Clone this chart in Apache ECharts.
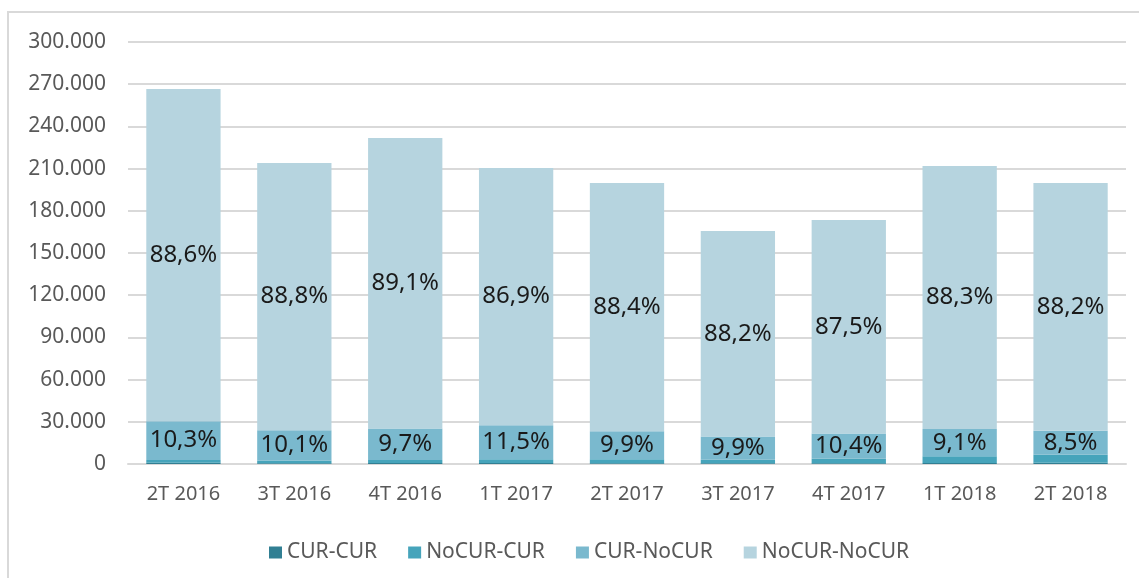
<!DOCTYPE html>
<html>
<head>
<meta charset="utf-8">
<script src="https://cdn.jsdelivr.net/npm/echarts@6/dist/echarts.min.js"></script>
<style>
  html, body { margin: 0; padding: 0; background: #fff; }
  #main { width: 1139px; height: 578px; }
</style>
</head>
<body>
<div id="main"></div>
<script>
// datos
const quarters = ['2T 2016', '3T 2016', '4T 2016', '1T 2017', '2T 2017', '3T 2017', '4T 2017', '1T 2018', '2T 2018'];
const curCur = [800, 600, 700, 700, 600, 500, 600, 700, 800];
const noCurCur = [2100, 1800, 2100, 2700, 2800, 2600, 3100, 4800, 5800];
const curNoCur = [27500, 21600, 22500, 24200, 19800, 16400, 18000, 19300, 17000];
const noCurNoCur = [236200, 190000, 206400, 182800, 176600, 146100, 151800, 187000, 176200];
const seriesNames = ['CUR-CUR', 'NoCUR-CUR', 'CUR-NoCUR', 'NoCUR-NoCUR'];
const colors = ['#317f93', '#46a4bb', '#7ab9ce', '#b6d4df'];

const totals = quarters.map((q, i) => curCur[i] + noCurCur[i] + curNoCur[i] + noCurNoCur[i]);

function pctLabel(p) {
    return (p.value / totals[p.dataIndex] * 100).toFixed(1).replace('.', ',') + '%';
}

function fmtThousands(v) {
    return String(v).replace(/\B(?=(\d{3})+(?!\d))/g, '.');
}

let myChart = echarts.init(document.getElementById('main'));

const labelStyle = {
    show: true,
    position: 'inside',
    formatter: pctLabel,
    color: '#1a1a1a',
    fontSize: 24,
    fontFamily: 'Noto Sans'
};

myChart.setOption({
    animation: false,
    textStyle: { fontFamily: 'Noto Sans' },
    graphic: [{
        type: 'rect',
        shape: { x: 8, y: 12, width: 1200, height: 700 },
        style: { fill: 'none', stroke: '#d9d9d9', lineWidth: 2 },
        silent: true
    }],
    grid: { left: 128, right: 13, top: 42, bottom: 114 },
    legend: {
        top: 537,
        left: 264,
        itemWidth: 13,
        itemHeight: 12,
        itemGap: 31,
        icon: 'rect',
        textStyle: { color: '#595959', fontSize: 21, fontFamily: 'Noto Sans' },
        data: seriesNames
    },
    xAxis: {
        type: 'category',
        data: quarters,
        axisTick: { show: false },
        axisLine: { lineStyle: { color: '#d9d9d9', width: 2 } },
        axisLabel: { color: '#595959', fontSize: 20, margin: 20 }
    },
    yAxis: {
        type: 'value',
        min: 0,
        max: 300000,
        interval: 30000,
        axisLabel: { color: '#595959', fontSize: 21, margin: 22, formatter: fmtThousands },
        splitLine: { lineStyle: { color: '#d9d9d9', width: 2 } }
    },
    series: [
        { name: seriesNames[0], type: 'bar', stack: 'tot', barWidth: '67%', data: curCur, itemStyle: { color: colors[0] } },
        { name: seriesNames[1], type: 'bar', stack: 'tot', data: noCurCur, itemStyle: { color: colors[1] } },
        { name: seriesNames[2], type: 'bar', stack: 'tot', data: curNoCur, itemStyle: { color: colors[2] }, label: labelStyle },
        { name: seriesNames[3], type: 'bar', stack: 'tot', data: noCurNoCur, itemStyle: { color: colors[3] }, label: labelStyle }
    ]
});
</script>
</body>
</html>
